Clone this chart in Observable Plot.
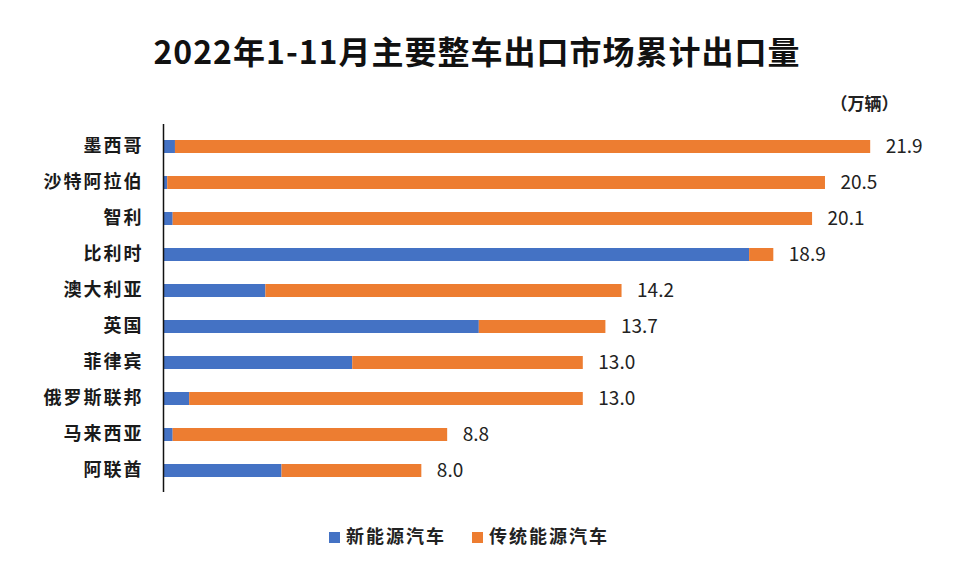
<!DOCTYPE html>
<html>
<head>
<meta charset="utf-8">
<script src="https://cdn.jsdelivr.net/npm/d3@7"></script>
<script src="https://cdn.jsdelivr.net/npm/@observablehq/plot@0.6"></script>
<style>
  body { margin: 0; background: #fff; font-family: "Noto Sans CJK SC", "Noto Sans", sans-serif; }
  #wrap { width: 980px; height: 576px; position: relative; overflow: hidden; }
  #title { height: 80px; line-height: 100px; text-align: center; font-size: 32px; font-weight: 700; color: #111; padding-right: 26px; letter-spacing: 1px; }
  #legend { display: flex; justify-content: center; align-items: center; gap: 26px; font-size: 18px; font-weight: 700; color: #222; height: 30px; padding-right: 42px; letter-spacing: 2px; }
  .sw { display: inline-block; width: 11px; height: 11px; margin-right: 6px; vertical-align: 0px; }
</style>
</head>
<body>
<div id="wrap">
  <div id="title">2022年1-11月主要整车出口市场累计出口量</div>
  <div id="chart"></div>
  <div id="legend"></div>
</div>
<script>
const countries = ["墨西哥", "沙特阿拉伯", "智利", "比利时", "澳大利亚", "英国", "菲律宾", "俄罗斯联邦", "马来西亚", "阿联酋"];
const totals = [21.9, 20.5, 20.1, 18.9, 14.2, 13.7, 13.0, 13.0, 8.8, 8.0];
const nev = [0.37, 0.13, 0.30, 18.15, 3.17, 9.78, 5.86, 0.81, 0.30, 3.67];
const seriesNames = ["新能源汽车", "传统能源汽车"];
const seriesColors = ["#4472C4", "#ED7D31"];
const unitLabel = "（万辆）";

const rows = [];
countries.forEach((c, i) => {
  rows.push({country: c, series: seriesNames[0], value: nev[i]});
  rows.push({country: c, series: seriesNames[1], value: +(totals[i] - nev[i]).toFixed(2)});
});
const totalRows = countries.map((c, i) => ({country: c, total: totals[i]}));

const chart = Plot.plot({
  width: 980,
  height: 440,
  marginTop: 44,
  marginBottom: 28,
  marginLeft: 163,
  marginRight: 42,
  style: {fontFamily: "'Noto Sans CJK SC', 'Noto Sans', sans-serif", background: "transparent"},
  x: {domain: [0, 24], axis: null},
  y: {domain: countries, padding: 0, label: null},
  color: {domain: seriesNames, range: seriesColors},
  marks: [
    Plot.barX(rows, Plot.stackX({x: "value", y: "country", fill: "series", order: seriesNames, insetTop: 12, insetBottom: 11})),
    Plot.ruleX([0], {stroke: "#111", strokeWidth: 1.5}),
    Plot.text(totalRows, {x: "total", y: "country", text: d => d.total.toFixed(1), textAnchor: "start", dx: 15, fontSize: 19, fill: "#222", style: "letter-spacing:2px"}),
    Plot.axisY({tickSize: 0, tickPadding: 20, fontSize: 18, fontWeight: "bold", fill: "#1a1a1a", label: null}),
    Plot.text([unitLabel], {frameAnchor: "top-right", dx: -40, dy: -27, fontSize: 17, fontWeight: "bold", fill: "#222", textAnchor: "end"})
  ]
});
chart.querySelectorAll("g[aria-label='y-axis tick label'] text").forEach(t => t.style.letterSpacing = "2px");
document.getElementById("chart").appendChild(chart);

const legend = document.getElementById("legend");
seriesNames.forEach((s, i) => {
  const item = document.createElement("span");
  item.innerHTML = `<span class="sw" style="background:${seriesColors[i]}"></span>${s}`;
  legend.appendChild(item);
});
</script>
</body>
</html>
